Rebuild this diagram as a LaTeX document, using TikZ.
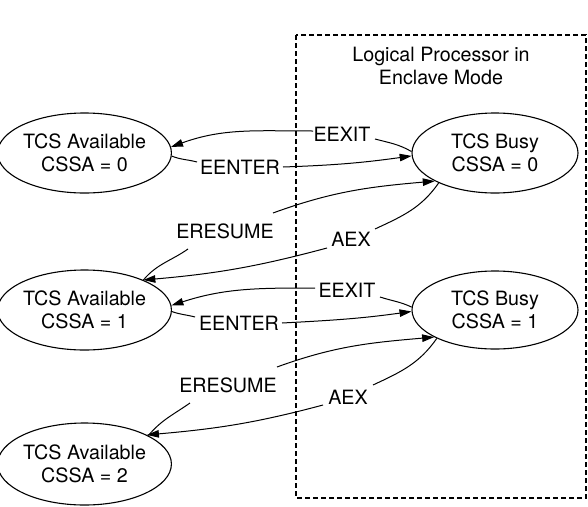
\documentclass[tikz,border=0pt]{standalone}
\usepackage{fontspec}
\setmainfont{TeX Gyre Heros}
\usetikzlibrary{arrows.meta,shapes.geometric}
\tikzset{
  state/.style={draw, ellipse, line width=1.1pt, inner sep=0pt, align=center,
    minimum width=167pt, minimum height=80pt},
  lab/.style={inner sep=0pt},
  edge/.style={line width=1pt},
  arr/.style={edge, -{Triangle[length=12pt,width=7.5pt]}},
  frame/.style={line width=1.1pt, dash pattern=on 5pt off 3pt}
}
\begin{document}
\begin{tikzpicture}[x=1pt,y=1pt,font=\fontsize{19.7}{23}\selectfont]
\useasboundingbox (0,0) rectangle (588,-506);
% frame
\draw[frame] (296,-35) rectangle (586,-498);
\node[lab, align=center] (title) at (441,-66) {Logical Processor in\\Enclave Mode};
% states
\node[state] (av0) at (84.5,-153) {TCS Available\\CSSA = 0};
\node[state, minimum width=166pt] (busy0) at (495,-153) {TCS Busy\\CSSA = 0};
\node[state] (av1) at (84.5,-310) {TCS Available\\CSSA = 1};
\node[state, minimum width=166pt, minimum height=78pt] (busy1) at (495,-310) {TCS Busy\\CSSA = 1};
\node[state, minimum height=82pt] (av2) at (84.5,-464) {TCS Available\\CSSA = 2};
% labels
\node[lab] (eexitA) at (342,-134) {EEXIT};
\node[lab] (eenterA) at (240,-167) {EENTER};
\node[lab] (eresumeA) at (225,-231) {ERESUME};
\node[lab] (aexA) at (351,-239) {AEX};
\node[lab] (eexitB) at (347,-290) {EEXIT};
\node[lab] (eenterB) at (239,-323) {EENTER};
\node[lab] (eresumeB) at (228,-385) {ERESUME};
\node[lab] (aexB) at (348,-397) {AEX};
% EEXIT 1
\draw[edge] ([shift={(33,-5)}]eexitA.center) to[out=-15,in=150] (busy0.179);
\draw[arr] ([shift={(-29,3)}]eexitA.center) to[out=180,in=20] (av0.4);
% EENTER 1
\draw[edge] (av0.-2) to[out=-22,in=165] ([shift={(-43,5)}]eenterA.center);
\draw[arr] ([shift={(43,0)}]eenterA.center) to[out=2,in=188] (busy0.182);
% ERESUME 1
\draw[edge] (av1.27) to[out=50,in=215] ([shift={(-37,-18)}]eresumeA.center);
\draw[arr] ([shift={(48,18)}]eresumeA.center) to[out=20,in=185] (busy0.205);
% AEX 1
\draw[edge] (busy0.208) to[out=235,in=25] ([shift={(24,10)}]aexA.center);
\draw[arr] ([shift={(-24,-9)}]aexA.center) to[out=195,in=5] (av1.27);
% EEXIT 2
\draw[edge] ([shift={(33,-7)}]eexitB.center) to[out=-18,in=155] (busy1.178);
\draw[arr] ([shift={(-32,2)}]eexitB.center) to[out=180,in=18] (av1.3);
% EENTER 2
\draw[edge] (av1.-1) to[out=-20,in=165] ([shift={(-44,6)}]eenterB.center);
\draw[arr] ([shift={(43,0)}]eenterB.center) to[out=3,in=188] (busy1.181);
% ERESUME 2
\draw[edge] (av2.24) to[out=50,in=215] ([shift={(-38,-18)}]eresumeB.center);
\draw[arr] ([shift={(49,18)}]eresumeB.center) to[out=20,in=185] (busy1.204);
% AEX 2
\draw[edge] (busy1.206) to[out=235,in=25] ([shift={(25,12)}]aexB.center);
\draw[arr] ([shift={(-25,-8)}]aexB.center) to[out=195,in=5] (av2.25);
\end{tikzpicture}
\end{document}
